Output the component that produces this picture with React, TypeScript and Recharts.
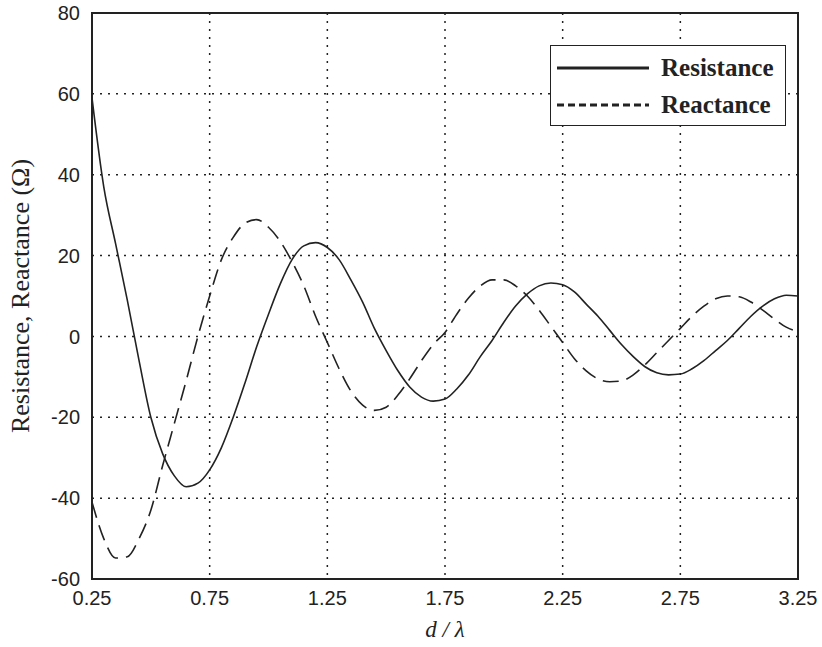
import { LineChart, Line, XAxis, YAxis, CartesianGrid, ReferenceArea } from "recharts";

const dLambda = [
  0.25, 0.3, 0.35, 0.4, 0.45, 0.5, 0.55, 0.6, 0.65, 0.7, 0.75, 0.8, 0.85, 0.9, 0.95, 1.0,
  1.05, 1.1, 1.15, 1.2, 1.25, 1.3, 1.35, 1.4, 1.45, 1.5, 1.55, 1.6, 1.65, 1.7, 1.75, 1.8,
  1.85, 1.9, 1.95, 2.0, 2.05, 2.1, 2.15, 2.2, 2.25, 2.3, 2.35, 2.4, 2.45, 2.5, 2.55, 2.6,
  2.65, 2.7, 2.75, 2.8, 2.85, 2.9, 2.95, 3.0, 3.05, 3.1, 3.15, 3.2, 3.25,
];

const resistance = [
  59, 37, 23, 9, -6, -20, -29, -34.5, -37.2, -36.3, -33, -27.5, -20, -11.5, -2.5, 5.5,
  13, 19, 22.4, 23.2, 22, 19, 14, 8.5, 2, -3.5, -8.5, -12.5, -15, -16, -15.5, -13,
  -9.5, -5, -1, 3.5, 7.5, 10.5, 12.5, 13.2, 12.8, 11, 8, 5, 1.5, -2, -5, -7.5,
  -9, -9.5, -9.3, -8, -6, -3.5, -1, 2, 5, 7.5, 9.3, 10.2, 10,
];

const reactance = [
  -41, -50, -54.8, -54.5, -50, -43, -32, -21.5, -11, 0, 10, 19, 24.5, 28, 28.9, 27,
  23.5, 18.5, 12.5, 5, -1.5, -8, -13.5, -17, -18.3, -17.5, -14.5, -10.5, -6, -2, 1, 5.5,
  9.5, 12.5, 14, 14, 12.5, 10, 6.5, 2.5, -1.5, -5.5, -8.5, -10.5, -11.2, -11, -9.5, -7,
  -4, -1, 2, 5, 7.5, 9.3, 10, 9.8, 8.5, 6.5, 4.3, 2.3, 1.2,
];

const xTicks = [0.25, 0.75, 1.25, 1.75, 2.25, 2.75, 3.25];
const yTicks = [-60, -40, -20, 0, 20, 40, 60, 80];

const data = dLambda.map((d, i) => ({ d, r: resistance[i], x: reactance[i] }));

const tickFont = { fontFamily: "Liberation Sans, Arial, sans-serif", fontSize: 20, fill: "#222" };

function LegendBox() {
  return (
    <div
      style={{
        position: "absolute",
        left: 550,
        top: 45,
        width: 234,
        height: 79,
        background: "#fff",
        border: "1.5px solid #222",
        fontFamily: "Liberation Serif, Times New Roman, serif",
        fontWeight: "bold",
        fontSize: 25,
        color: "#222",
      }}
    >
      <div style={{ display: "flex", alignItems: "center", height: 39, marginTop: 2 }}>
        <svg width={110} height={10} style={{ flexShrink: 0 }}>
          <line x1={6} y1={5} x2={98} y2={5} stroke="#222" strokeWidth={3} />
        </svg>
        <span>Resistance</span>
      </div>
      <div style={{ display: "flex", alignItems: "center", height: 36 }}>
        <svg width={110} height={10} style={{ flexShrink: 0 }}>
          <line x1={6} y1={5} x2={98} y2={5} stroke="#222" strokeWidth={3} strokeDasharray="7 4" />
        </svg>
        <span>Reactance</span>
      </div>
    </div>
  );
}

export default function App() {
  return (
    <div style={{ position: "absolute", left: 0, top: 0, width: 822, height: 647, background: "#fff" }}>
      <LineChart width={822} height={647} data={data} margin={{ top: 13, right: 24, bottom: 8, left: 0 }}>
        <CartesianGrid stroke="#222" strokeWidth={1.5} strokeDasharray="2 6" />
        <XAxis
          dataKey="d"
          type="number"
          domain={[0.25, 3.25]}
          ticks={xTicks}
          tickFormatter={(v: number) => v.toFixed(2)}
          tick={tickFont}
          tickLine={false}
          axisLine={false}
          tickMargin={6}
          height={60}
          label={{
            value: "d / λ",
            position: "insideBottom",
            offset: 2,
            style: { fontFamily: "Liberation Serif, Times New Roman, serif", fontStyle: "italic", fontSize: 23, fill: "#222" },
          }}
        />
        <YAxis
          type="number"
          domain={[-60, 80]}
          ticks={yTicks}
          tick={tickFont}
          tickLine={false}
          axisLine={false}
          width={92}
          tickMargin={6}
          label={{
            value: "Resistance, Reactance (Ω)",
            angle: -90,
            position: "insideLeft",
            offset: 20,
            style: { textAnchor: "middle", fontFamily: "Liberation Serif, Times New Roman, serif", fontSize: 26, fill: "#222" },
          }}
        />
        <ReferenceArea x1={0.25} x2={3.25} y1={-60} y2={80} fill="none" stroke="#222" strokeWidth={2} />
        <Line
          dataKey="r"
          type="monotone"
          stroke="#222"
          strokeWidth={1.6}
          dot={false}
          isAnimationActive={false}
        />
        <Line
          dataKey="x"
          type="monotone"
          stroke="#222"
          strokeWidth={1.6}
          strokeDasharray="16 8"
          dot={false}
          isAnimationActive={false}
        />
      </LineChart>
      <LegendBox />
    </div>
  );
}
